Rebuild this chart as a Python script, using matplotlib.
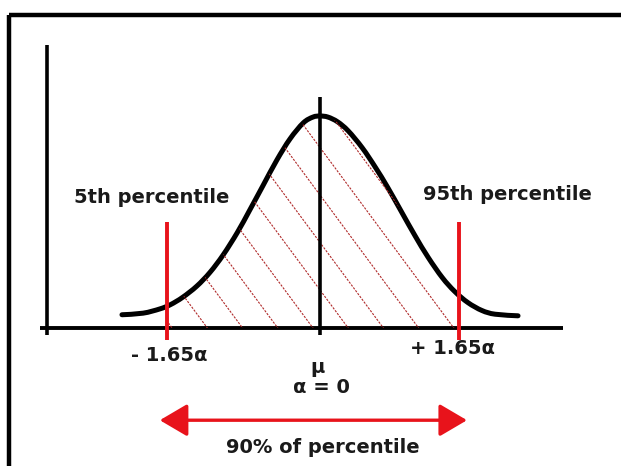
import numpy as np
import matplotlib
matplotlib.use('Agg')
import matplotlib.pyplot as plt
from matplotlib.patches import Polygon, PathPatch
from matplotlib.path import Path
from matplotlib.collections import LineCollection

# bell curve (z in sigma units, height as density)
left_z = [-2.25, -2.01, -1.82, -1.70, -1.56, -1.40, -1.25, -1.10, -0.94, -0.80,
          -0.65, -0.49, -0.34, -0.19, -0.08, 0.0]
left_d = [0.025, 0.028, 0.036, 0.044, 0.058, 0.079, 0.105, 0.138, 0.180, 0.222,
          0.268, 0.317, 0.357, 0.387, 0.398, 0.400]
right_z = [0.09, 0.20, 0.32, 0.48, 0.63, 0.77, 0.93, 1.08, 1.23, 1.39,
           1.53, 1.68, 1.84, 1.99, 2.25]
right_d = [0.398, 0.389, 0.372, 0.340, 0.303, 0.265, 0.218, 0.174, 0.133, 0.095,
           0.069, 0.048, 0.033, 0.026, 0.023]

pct_z = [-1.74, 1.58]            # where the 5th / 95th lines sit
pct_names = ["5th percentile", "95th percentile"]
pct_ticks = ["- 1.65\u03b1", "+ 1.65\u03b1"]
mean_labels = ["\u03bc", "\u03b1 = 0"]
span_label = "90% of percentile"

RED = '#e8131b'

z = np.array(left_z + right_z)
d = np.array(left_d + right_d)
lo, hi = pct_z

fig = plt.figure(figsize=(6.21, 4.66), dpi=100)
ax = fig.add_axes([0, 0, 1, 1])
ax.set_xlim(-3.636, 3.420)
ax.set_ylim(-0.2604, 0.6189)
ax.axis('off')

# frame (only top and left edges show)
ax.plot([-3.534, -3.534], [-0.30, 0.5906], color='black', lw=3.2, solid_capstyle='butt')
ax.plot([-3.534, 3.5], [0.5906, 0.5906], color='black', lw=3.2, solid_capstyle='butt')

# axes
ax.plot([-3.102, -3.102], [-0.013, 0.534], color='black', lw=2.6, solid_capstyle='butt')
ax.plot([-3.18, 2.76], [0, 0], color='black', lw=2.8, solid_capstyle='butt')

# hatched area between the percentile lines
inside = (z > lo) & (z < hi)
poly_z = [lo, lo] + list(z[inside]) + [hi, hi]
poly_d = [0, np.interp(lo, z, d)] + list(d[inside]) + [np.interp(hi, z, d), 0]
region = Polygon(np.column_stack([poly_z, poly_d]), closed=True,
                 facecolor='none', edgecolor='none')
ax.add_patch(region)

segs = []
for k in range(-14, 15):
    c = 0.02 + k * 0.4
    segs.append([(c - 3, 0.336 + 0.224 * 3), (c + 3, 0.336 - 0.224 * 3)])
hatch = LineCollection(segs, colors='#b02a2a', linewidths=0.8, linestyles=(0, (2, 1.2)))
ax.add_collection(hatch)
hatch.set_clip_path(region)

# curve drawn as a smooth bezier path through the read points
pts = np.column_stack([z, d])
ext = np.vstack([pts[0], pts, pts[-1]])
verts = [pts[0]]
codes = [Path.MOVETO]
for i in range(1, len(ext) - 2):
    p0, p1, p2, p3 = ext[i - 1], ext[i], ext[i + 1], ext[i + 2]
    verts += [p1 + (p2 - p0) / 6, p2 - (p3 - p1) / 6, p2]
    codes += [Path.CURVE4] * 3
ax.add_patch(PathPatch(Path(verts, codes), facecolor='none', edgecolor='black',
                       lw=3.6, capstyle='round', joinstyle='round'))

ax.plot([0, 0], [-0.013, 0.436], color='black', lw=2.6, solid_capstyle='butt')

# percentile lines
for pz in pct_z:
    ax.plot([pz, pz], [-0.023, 0.20], color=RED, lw=2.8, solid_capstyle='butt')

txt = dict(fontsize=14, fontweight='bold', ha='center', va='center', color='#1a1a1a')
ax.text(-1.915, 0.247, pct_names[0], **txt)
ax.text(2.125, 0.251, pct_names[1], **txt)
ax.text(-1.716, -0.051, pct_ticks[0], **txt)
ax.text(1.511, -0.038, pct_ticks[1], **txt)
ax.text(-0.023, -0.074, mean_labels[0], **txt)
ax.text(0.011, -0.113, mean_labels[1], **txt)
ax.text(0.034, -0.225, span_label, **txt)

ax.annotate('', xy=(-1.82, -0.174), xytext=(1.67, -0.174),
            arrowprops=dict(arrowstyle='<|-|>,head_length=0.85,head_width=0.5',
                            color=RED, lw=2.4, mutation_scale=20,
                            shrinkA=0, shrinkB=0))

fig.savefig('out.png', dpi=100)
